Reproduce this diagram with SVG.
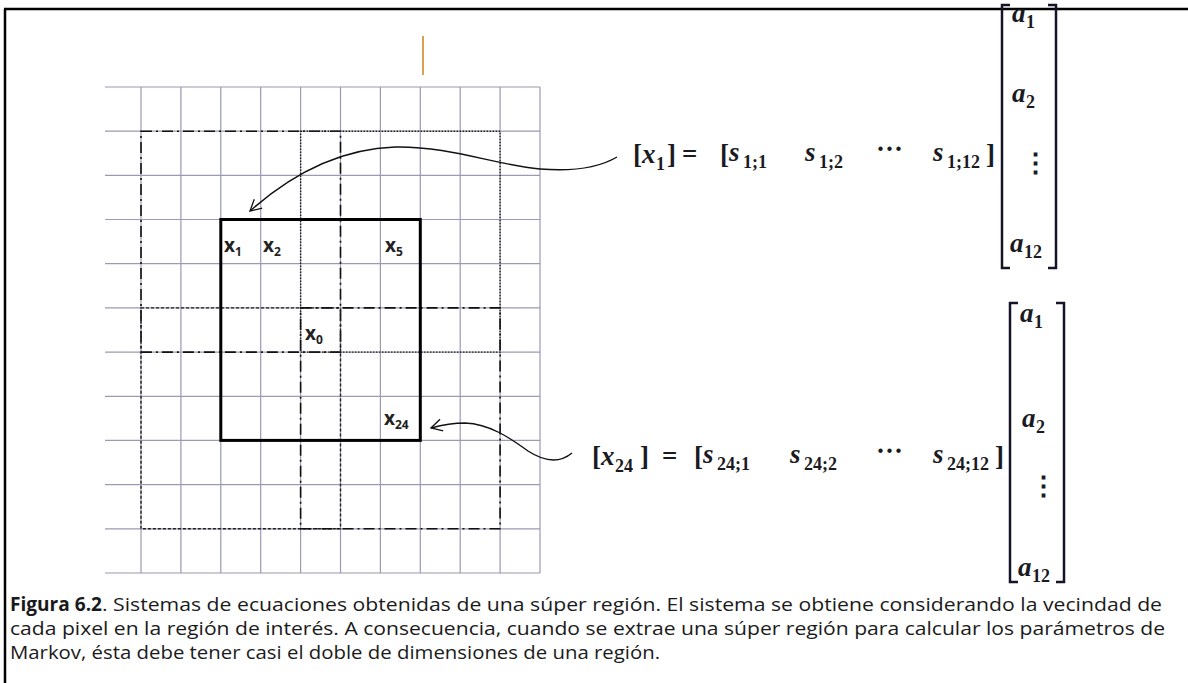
<svg xmlns="http://www.w3.org/2000/svg" width="1188" height="683" viewBox="0 0 1188 683">
<style>
.grid{stroke:#9a9ab4;stroke-width:1.2;fill:none}
.dd{stroke:#111;stroke-width:1.6;fill:none;stroke-dasharray:11 4 2 4}
.dot{stroke:#222;stroke-width:1.4;fill:none;stroke-dasharray:1.5 1.5}
.dsh{stroke:#222;stroke-width:1.4;fill:none;stroke-dasharray:3 2}
.thick{stroke:#000;stroke-width:3;fill:none}
.lbl{font-family:"Open Sans","Liberation Sans",sans-serif;font-weight:bold;font-size:19px;fill:#222}
.lsub{font-size:12px}
.m{font-family:"Liberation Serif",serif;font-weight:bold;font-style:italic;font-size:27px;fill:#1a1a22}
.mu{font-family:"Liberation Serif",serif;font-weight:bold;font-size:27px;fill:#1a1a22}
.ms{font-family:"Liberation Serif",serif;font-weight:bold;font-size:18px;fill:#1a1a22}
.br{stroke:#15152a;stroke-width:2.5;fill:none}
.conn{stroke:#111;stroke-width:1.4;fill:none}
.cap{font-family:"Open Sans","Liberation Sans",sans-serif;font-size:19px;fill:#1a1a1a}
</style>
<defs>
<marker id="oa" markerWidth="16" markerHeight="16" refX="13" refY="7" orient="auto" markerUnits="userSpaceOnUse">
<path d="M2 1 L13 7 L2 13" fill="none" stroke="#111" stroke-width="1.3"/>
</marker>
</defs>
<rect width="1188" height="683" fill="#fff"/>
<g id="border" stroke="#000" stroke-width="2.5" fill="none">
<line x1="4" y1="9" x2="1188" y2="9"/>
<line x1="5" y1="9" x2="5" y2="683"/>
</g>
<line id="tick" x1="423" y1="36" x2="423" y2="75" stroke="#d8a050" stroke-width="2"/>
<g id="grid" class="grid">
<path d="M105 87H540M105 131.2H540M105 175.4H540M105 219.5H540M105 263.7H540M105 307.9H540M105 352.1H540M105 396.3H540M105 440.4H540M105 484.6H540M105 528.8H540M105 573H540"/>
<path d="M141 87V573M180.9 87V573M220.8 87V573M260.7 87V573M300.6 87V573M340.5 87V573M380.4 87V573M420.3 87V573M460.2 87V573M500.1 87V573M540 87V573"/>
</g>
<g id="region-tl"><rect class="dd" x="141" y="131.2" width="199.5" height="220.9"/></g>
<g id="region-tr"><rect class="dot" x="300.6" y="131.2" width="199.5" height="220.9"/></g>
<g id="region-bl"><rect class="dsh" x="141" y="307.9" width="199.5" height="220.9"/></g>
<g id="region-br"><rect class="dd" x="300.6" y="307.9" width="199.5" height="220.9"/></g>
<g id="region"><rect class="thick" x="220.8" y="219.5" width="199.5" height="220.9"/></g>
<g id="labels">
<text class="lbl" x="224" y="252">x<tspan class="lsub" dy="4">1</tspan></text>
<text class="lbl" x="263" y="252">x<tspan class="lsub" dy="4">2</tspan></text>
<text class="lbl" x="385" y="252">x<tspan class="lsub" dy="4">5</tspan></text>
<text class="lbl" x="305" y="340">x<tspan class="lsub" dy="4">0</tspan></text>
<text class="lbl" x="384" y="425">x<tspan class="lsub" dy="4">24</tspan></text>
</g>
<g id="connectors">
<path class="conn" marker-end="url(#oa)" d="M617 157 C595 170 565 171 540 169 C495 165 450 146 395 147 C335 149 285 180 250 211"/>
<path class="conn" marker-end="url(#oa)" d="M572 453 C560 463 545 462 528 451 C510 438 490 424 465 423 C452 423 442 425 431 428"/>
</g>
<g id="eq1">
<text class="mu" x="633" y="163">[</text>
<text class="m" x="642" y="163">x</text>
<text class="ms" x="656" y="170">1</text>
<text class="mu" x="667" y="163">]</text>
<text class="mu" x="682" y="163">=</text>
<text class="mu" x="720" y="163">[</text>
<text class="m" x="729" y="161">s</text>
<text class="ms" x="743" y="168">1;1</text>
<text class="m" x="805" y="161">s</text>
<text class="ms" x="819" y="168">1;2</text>
<text class="mu" x="876" y="158">···</text>
<text class="m" x="933" y="161">s</text>
<text class="ms" x="947" y="168">1;12</text>
<text class="mu" x="986" y="163">]</text>
</g>
<g id="vec1">
<path class="br" d="M1010 5H1002V268H1010"/>
<path class="br" d="M1048 5H1056V268H1048"/>
<text class="m" x="1012" y="22">a</text><text class="ms" x="1026" y="28">1</text>
<text class="m" x="1012" y="102">a</text><text class="ms" x="1026" y="108">2</text>
<text class="mu" x="1022" y="172">⋮</text>
<text class="m" x="1010" y="252">a</text><text class="ms" x="1024" y="258">12</text>
</g>
<g id="eq2">
<text class="mu" x="592" y="465">[</text>
<text class="m" x="601" y="465">x</text>
<text class="ms" x="615" y="472">24</text>
<text class="mu" x="640" y="465">]</text>
<text class="mu" x="662" y="465">=</text>
<text class="mu" x="694" y="465">[</text>
<text class="m" x="703" y="463">s</text>
<text class="ms" x="717" y="470">24;1</text>
<text class="m" x="790" y="463">s</text>
<text class="ms" x="804" y="470">24;2</text>
<text class="mu" x="876" y="460">···</text>
<text class="m" x="933" y="463">s</text>
<text class="ms" x="947" y="470">24;12</text>
<text class="mu" x="995" y="465">]</text>
</g>
<g id="vec2">
<path class="br" d="M1018 303H1010V582H1018"/>
<path class="br" d="M1056 303H1064V582H1056"/>
<text class="m" x="1020" y="322">a</text><text class="ms" x="1034" y="328">1</text>
<text class="m" x="1022" y="427">a</text><text class="ms" x="1036" y="433">2</text>
<text class="mu" x="1030" y="495">⋮</text>
<text class="m" x="1018" y="576">a</text><text class="ms" x="1032" y="582">12</text>
</g>
<g id="caption">
<text class="cap" x="10" y="611" font-weight="bold" textLength="92" lengthAdjust="spacingAndGlyphs">Figura 6.2</text>
<text class="cap" x="102" y="611" textLength="1060" lengthAdjust="spacingAndGlyphs">. Sistemas de ecuaciones obtenidas de una súper región. El sistema se obtiene considerando la vecindad de</text>
<text class="cap" x="10" y="635" textLength="1155" lengthAdjust="spacingAndGlyphs">cada pixel en la región de interés. A consecuencia, cuando se extrae una súper región para calcular los parámetros de</text>
<text class="cap" x="10" y="659" textLength="650" lengthAdjust="spacingAndGlyphs">Markov, ésta debe tener casi el doble de dimensiones de una región.</text>
</g>
</svg>
